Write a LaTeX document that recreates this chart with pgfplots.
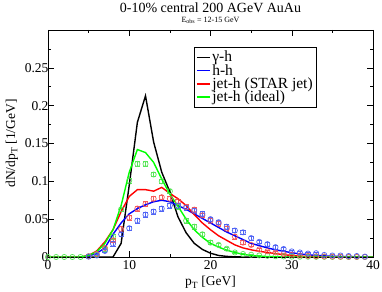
\documentclass[border=0pt]{standalone}
\usepackage{pgfplots}
\pgfplotsset{compat=1.18}
\usepackage{pgfplotstable}
\usepackage{fontspec}
\setmainfont{Liberation Serif}
\definecolor{xgreen}{RGB}{0,255,0}
\definecolor{mgreen}{RGB}{90,230,90}
\definecolor{mred}{RGB}{245,90,90}
\definecolor{mblue}{RGB}{80,100,245}

% data points (markers): x  y  err
\pgfplotstableread{
x y e
0 0 0
1 0 0
2 0 0
3 0 0
4 0 0
5 0.001 0
6 0.003 0.001
7 0.010 0.002
8 0.027 0.003
9 0.063 0.003
10 0.101 0.003
11 0.123 0.003
12 0.123 0.003
13 0.109 0.003
14 0.100 0.003
15 0.087 0.003
16 0.066 0.003
17 0.048 0.003
18 0.040 0.003
19 0.030 0.003
20 0.019 0.0025
21 0.016 0.0025
22 0.011 0.002
23 0.006 0.0015
24 0.004 0.001
25 0.003 0.001
26 0.002 0
27 0.0015 0
28 0.001 0
29 0.0007 0
30 0.0005 0
31 0.0003 0
32 0.0003 0
33 0.0002 0
34 0.0002 0
35 0.0001 0
36 0.0001 0
37 0 0
38 0 0
39 0 0
}\greenpts

\pgfplotstableread{
x y e
5 0.001 0
6 0.004 0.001
7 0.012 0.002
8 0.022 0.003
9 0.037 0.003
10 0.052 0.003
11 0.064 0.003
12 0.070 0.003
13 0.077 0.003
14 0.079 0.003
15 0.077 0.003
16 0.0735 0.003
17 0.066 0.003
18 0.0626 0.003
19 0.055 0.003
20 0.048 0.003
21 0.044 0.003
22 0.0375 0.003
23 0.027 0.003
24 0.019 0.0025
25 0.016 0.0025
26 0.010 0.002
27 0.0075 0.002
28 0.006 0.0015
29 0.004 0.001
30 0.003 0.001
31 0.002 0.001
32 0.0015 0
33 0.001 0
34 0.0007 0
35 0.0005 0
36 0.0004 0
37 0.0003 0
38 0.0002 0
39 0.0001 0
}\redpts

\pgfplotstableread{
x y e
5 0.0005 0
6 0.002 0.001
7 0.008 0.002
8 0.0176 0.003
9 0.030 0.003
10 0.038 0.003
11 0.048 0.003
12 0.056 0.003
13 0.060 0.003
14 0.064 0.003
15 0.068 0.003
16 0.068 0.003
17 0.065 0.003
18 0.061 0.003
19 0.057 0.003
20 0.050 0.003
21 0.046 0.003
22 0.040 0.003
23 0.035 0.003
24 0.0326 0.003
25 0.025 0.003
26 0.020 0.0025
27 0.017 0.0025
28 0.013 0.0025
29 0.0106 0.002
30 0.0074 0.002
31 0.006 0.002
32 0.0045 0.0015
33 0.005 0.0015
34 0.0027 0.001
35 0.002 0.001
36 0.002 0.001
37 0.0013 0
38 0.0013 0
39 0.0005 0
}\bluepts

% curves
\pgfplotstableread{
x y
0 0
8 0
9 0.018
10 0.095
11 0.178
12 0.213
13 0.152
14 0.112
15 0.086
16 0.053
17 0.032
18 0.018
19 0.010
20 0.005
21 0.002
22 0.0008
23 0.0002
24 0
40 0
}\blackline

\pgfplotstableread{
x y
0 0
4 0
5 0.001
6 0.005
7 0.012
8 0.030
9 0.045
10 0.057
11 0.064
12 0.069
13 0.073
14 0.075
15 0.073
16 0.068
17 0.063
18 0.057
19 0.051
20 0.045
21 0.039
22 0.033
23 0.028
24 0.023
25 0.018
26 0.015
27 0.012
28 0.0095
29 0.0075
30 0.0057
31 0.004
32 0.003
33 0.002
34 0.0015
35 0.001
36 0.0007
37 0.0005
38 0.0003
39 0.0002
40 0
}\blueline

\pgfplotstableread{
x y
0 0
4 0
5 0.002
6 0.008
7 0.020
8 0.036
9 0.060
10 0.080
11 0.089
12 0.089
13 0.087
14 0.092
15 0.084
16 0.077
17 0.068
18 0.056
19 0.045
20 0.036
21 0.028
22 0.022
23 0.016
24 0.012
25 0.0095
26 0.0075
27 0.006
28 0.0045
29 0.003
30 0.002
31 0.0012
32 0.0007
33 0.0004
34 0.0002
35 0
40 0
}\redline

\pgfplotstableread{
x y
0 0
4 0
5 0.002
6 0.007
7 0.018
8 0.036
9 0.068
10 0.112
11 0.142
12 0.138
13 0.125
14 0.103
15 0.083
16 0.067
17 0.050
18 0.036
19 0.026
20 0.018
21 0.013
22 0.009
23 0.006
24 0.0035
25 0.002
26 0.0012
27 0.0006
28 0.0003
29 0
40 0
}\greenline

\begin{document}
\begin{tikzpicture}
\begin{axis}[
  name=ax,
  scale only axis,
  width=325pt, height=227pt,
  xmin=0, xmax=40, ymin=0, ymax=0.3,
  xtick={0,10,...,40}, minor xtick={5,15,25,35},
  ytick={0,0.05,0.1,0.15,0.2,0.25}, minor ytick={0.025,0.075,0.125,0.175,0.225,0.275},
  yticklabels={0,0.05,0.1,0.15,0.2,0.25},
  tick align=inside, xtick pos=both, ytick pos=both,
  major tick length=6pt, minor tick length=3pt,
  tick style={black, line width=0.5pt},
  axis line style={line width=0.7pt},
  /pgf/number format/assume math mode=true,
  ticklabel style={font=\fontsize{13.5}{15}\selectfont},
  yticklabel style={xshift=4pt},
  xlabel={p\textsubscript{T} [GeV]},
  ylabel={dN/dp\textsubscript{T} [1/GeV]},
  label style={font=\fontsize{13.5}{15}\selectfont},
  legend cell align=left,
  legend style={at={(0.449,0.925)}, anchor=north west,
    font=\fontsize{15.5}{17}\selectfont, row sep=-3pt,
    inner xsep=2pt, inner ysep=2pt},
  legend image code/.code={\draw[#1, line width=1.4pt] (0cm,0cm) -- (0.45cm,0cm);},
  clip=true,
]
% markers with error bars
\addplot[mgreen, line width=0.7pt, only marks, mark=o, mark size=2.6pt, forget plot,
  error bars/.cd, y dir=both, y explicit,
  error mark options={rotate=90, mark size=2.6pt, mgreen, line width=0.6pt}]
  table[x=x, y=y, y error=e] {\greenpts};
\addplot[mred, line width=0.7pt, only marks, mark=o, mark size=2.6pt, forget plot,
  error bars/.cd, y dir=both, y explicit,
  error mark options={rotate=90, mark size=2.6pt, mred, line width=0.6pt}]
  table[x=x, y=y, y error=e] {\redpts};
\addplot[mblue, line width=0.7pt, only marks, mark=o, mark size=2.6pt, forget plot,
  error bars/.cd, y dir=both, y explicit,
  error mark options={rotate=90, mark size=2.6pt, mblue, line width=0.6pt}]
  table[x=x, y=y, y error=e] {\bluepts};
% curves
\addplot[black, line width=1.4pt, mark=none] table[x=x, y=y] {\blackline};
\addlegendentry{γ-h}
\addplot[blue, line width=1.4pt, mark=none] table[x=x, y=y] {\blueline};
\addlegendentry{h-h}
\addplot[red, line width=1.4pt, mark=none] table[x=x, y=y] {\redline};
\addlegendentry{jet-h (STAR jet)}
\addplot[xgreen, line width=1.4pt, mark=none] table[x=x, y=y] {\greenline};
\addlegendentry{jet-h (ideal)}
\end{axis}
\node[anchor=base, font=\fontsize{14}{16}\selectfont] at ([yshift=17pt]ax.north) {0-10\% central 200 AGeV AuAu};
\node[anchor=base, font=\fontsize{8}{9}\selectfont] at ([yshift=7.5pt]ax.north) {E\textsubscript{obs} = 12-15 GeV};
\pgfresetboundingbox
\path ([xshift=-48pt,yshift=-35pt]ax.south west) rectangle ([xshift=9pt,yshift=30pt]ax.north east);
\end{tikzpicture}
\end{document}
